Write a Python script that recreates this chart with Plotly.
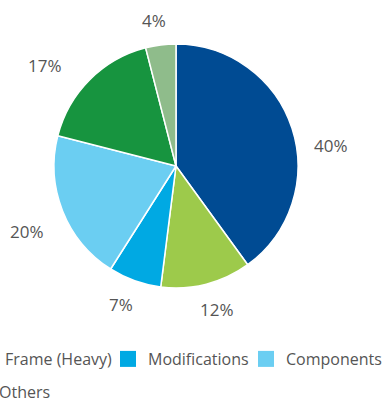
import math
import plotly.graph_objects as go

# Market share by segment (%), clockwise from 12 o'clock
labels = ["Frame (Light)", "Frame (Heavy)", "Modifications", "Components", "Accessories", "Others"]
shares = [40, 12, 7, 20, 17, 4]
colors = ["#004B93", "#9DCA4B", "#00A9E3", "#6BCEF2", "#17943F", "#8FBC8B"]

# Canvas and pie geometry (pixels, origin top-left)
W, H = 385, 399
CX, CY, R = 176, 166, 122
R_LABEL = 139                       # label ring just outside the pie
label_angle_adjust = [10.5, -1.5, 2, -2, -7.5, -1.5]  # small angular nudges for readability
label_radial_adjust = [0, 0, 0, 6, 9, 0]

# Legend layout: text start (px) and row centre (px) for each entry
legend_text_x = [-122, 5, 148, 286, -123, -1]
legend_row_y = [359, 359, 359, 359, 392, 392]
LEGEND_INDENT = -7
TEXT_GAP = 40 + LEGEND_INDENT

FONT = "Open Sans"
TEXT_COLOR = "#555555"
LABEL_SIZE = 17
LEGEND_SIZE = 16

fig = go.Figure()

fig.add_trace(go.Pie(
    values=shares,
    labels=labels,
    marker=dict(colors=colors, line=dict(color="white", width=1.5)),
    sort=False,
    direction="clockwise",
    rotation=0,
    textinfo="none",
    showlegend=False,
    hoverinfo="label+percent",
    domain=dict(x=[(CX - R) / W, (CX + R) / W],
                y=[(H - CY - R) / H, (H - CY + R) / H]),
))

# Percentage labels placed around the pie at each slice's mid-angle
total = sum(shares)
cum = 0
for v, adj, radj in zip(shares, label_angle_adjust, label_radial_adjust):
    mid = (cum + v / 2) / total * 360 + adj
    cum += v
    a = math.radians(mid)
    ux, uy = math.sin(a), -math.cos(a)
    txt = f"{v}%"
    hw = (0.57 * (len(txt) - 1) + 0.83) * LABEL_SIZE / 2
    hh = 0.36 * LABEL_SIZE
    d = R_LABEL + radj + hw * abs(ux) + hh * abs(uy)
    px, py = CX + d * ux, CY + d * uy
    fig.add_annotation(
        x=px / W, y=1 - py / H, xref="paper", yref="paper",
        text=txt, showarrow=False, xanchor="center", yanchor="middle",
        font=dict(family=FONT, size=LABEL_SIZE, color=TEXT_COLOR),
    )

# One single-entry legend per segment so entries flow like a wrapped row
legend_layout = {}
for i, (name, col) in enumerate(zip(labels, colors)):
    key = "legend" if i == 0 else f"legend{i + 1}"
    fig.add_trace(go.Scatter(
        x=[None], y=[None], mode="markers", name=name,
        marker=dict(symbol="square", size=16, color=col, line=dict(width=0)),
        legend=key, showlegend=True, hoverinfo="skip",
    ))
    legend_layout[key] = dict(
        x=(legend_text_x[i] - TEXT_GAP) / W, xref="paper", xanchor="left",
        y=1 - legend_row_y[i] / H, yref="paper", yanchor="middle",
        orientation="h", bgcolor="rgba(0,0,0,0)", borderwidth=0,
        indentation=LEGEND_INDENT,
        font=dict(family=FONT, size=LEGEND_SIZE, color=TEXT_COLOR),
        itemclick=False, itemdoubleclick=False,
    )

fig.update_layout(
    width=W, height=H,
    margin=dict(l=0, r=0, t=0, b=0, autoexpand=False),
    paper_bgcolor="white", plot_bgcolor="white",
    xaxis=dict(visible=False), yaxis=dict(visible=False),
    **legend_layout,
)

fig.write_html("out.html", config={"displayModeBar": False})
